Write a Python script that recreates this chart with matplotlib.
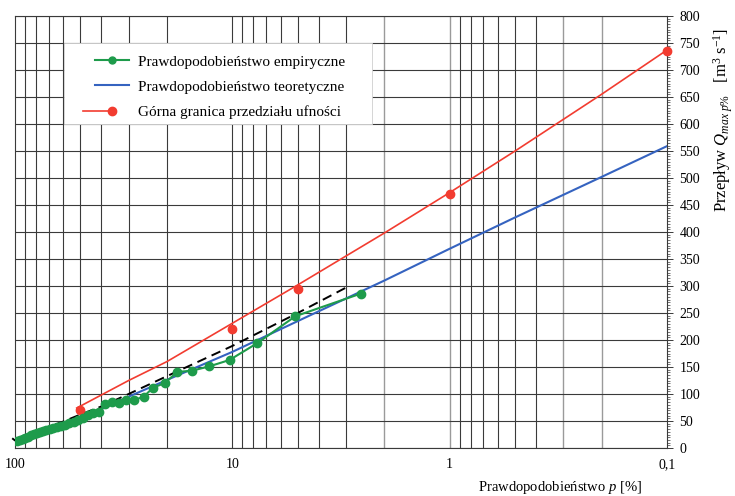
import numpy as np
import matplotlib
matplotlib.use("Agg")
import matplotlib.pyplot as plt
from matplotlib.lines import Line2D
from matplotlib.patches import Rectangle
from matplotlib.legend_handler import HandlerBase
from matplotlib.ticker import MultipleLocator, NullLocator

plt.rcParams['font.family'] = ['Liberation Serif', 'DejaVu Serif']
plt.rcParams['mathtext.fontset'] = 'custom'
plt.rcParams['mathtext.rm'] = 'Liberation Serif'
plt.rcParams['mathtext.it'] = 'Liberation Serif:italic'

# empirical probability (Weibull positions, n = 38) and flows
p_emp = [2.56, 5.13, 7.69, 10.3, 12.8, 15.4, 17.9, 20.5, 23.1, 25.6, 28.2, 30.8, 33.3,
         35.9, 38.5, 41.0, 43.6, 46.2, 48.7, 51.3, 53.8, 56.4, 59.0, 61.5, 64.1, 66.7,
         69.2, 71.8, 74.4, 76.9, 79.5, 82.1, 84.6, 87.2, 89.7, 92.3, 94.9, 97.4]
q_emp = [286, 244, 194, 163, 151, 143, 141, 120, 112, 95, 89, 88, 84,
         86, 81, 67, 65, 61, 55, 52, 49, 46, 43, 41, 39, 37, 35,
         33, 31, 29, 28, 26, 24, 21, 19, 17, 15, 13]

# theoretical distribution
p_teo = [97.4, 90, 80, 70, 60, 50, 40, 30, 20, 10, 5, 2, 1, 0.5, 0.2, 0.1]
q_teo = [12, 20, 28, 36, 46, 58, 72, 95, 126, 178, 235, 310, 369, 427, 502, 559]

# upper confidence limit
p_gor = [52, 30, 20, 10, 5, 2, 1, 0.5, 0.2, 0.1]
q_gor = [74, 125, 160, 231, 302, 398, 473, 550, 655, 737]
p_gor_pts = [50, 10, 5, 1, 0.1]
q_gor_pts = [70, 220, 294, 471, 736]

# dashed black line
p_dash = [103, 100, 90, 80, 70, 60, 50, 40, 30, 20, 10, 5, 3]
q_dash = [18, 14, 23, 31, 39, 49, 62, 77, 100, 133, 189, 250, 297]

x_ticks = [100, 10, 1, 0.1]
x_labels = ['100', '10', '1', '0,1']

green = '#1e9b4b'
blue = '#3563c0'
red = '#f23c30'
grid_c = '#3a3a3a'


class RightDot(HandlerBase):
    # line reaching further left, dot only at its right end
    def create_artists(self, legend, orig_handle, xdescent, ydescent,
                       width, height, fontsize, trans):
        y = (height - ydescent) / 2
        x1 = width / 2 - xdescent
        x0 = -xdescent - 0.35 * width
        line = Line2D([x0, x1], [y, y], color=orig_handle.get_color(),
                      lw=orig_handle.get_linewidth())
        dot = Line2D([x1], [y], ls='', marker='o', ms=orig_handle.get_markersize(),
                     color=orig_handle.get_color())
        line.set_transform(trans)
        dot.set_transform(trans)
        return [line, dot]


fig = plt.figure(figsize=(7.35, 4.96), dpi=100)
ax = fig.add_axes([15 / 735, 48 / 496, 652 / 735, 432 / 496])

ax.set_xscale('log')
ax.set_xlim(100, 0.1)
ax.set_ylim(0, 800)

# vertical grid of the probability paper
dark = [90, 80, 70, 60, 50, 40, 30, 20, 10, 9, 8, 7, 6, 5, 4, 3,
        0.9, 0.8, 0.7, 0.6, 0.5, 0.4]
light = [2, 1, 0.3, 0.2]
for v in dark:
    ax.axvline(v, color=grid_c, lw=0.8, zorder=0.5)
for v in light:
    ax.axvline(v, color='#9a9a9a', lw=1.0, zorder=0.5)

ax.set_yticks(np.arange(0, 801, 50))
ax.yaxis.set_minor_locator(MultipleLocator(5))
ax.set_axisbelow(True)
ax.grid(axis='y', which='major', color=grid_c, lw=0.8)

ax.set_xticks(x_ticks)
ax.set_xticklabels(x_labels)
ax.xaxis.set_minor_locator(NullLocator())
ax.tick_params(axis='x', length=0, pad=7, labelsize=10)

ax.yaxis.tick_right()
ax.tick_params(axis='y', which='major', direction='out', length=4, width=0.7,
               color=grid_c, pad=5, labelsize=10)
ax.tick_params(axis='y', which='minor', direction='out', length=2.5, width=0.5,
               color=grid_c)
for s in ax.spines.values():
    s.set_color(grid_c)
    s.set_linewidth(0.8)

ax.plot(p_dash, q_dash, color='black', lw=1.4, ls=(0, (5, 3)), zorder=3, clip_on=False)
ax.plot(p_teo, q_teo, color=blue, lw=1.5, zorder=4)
ax.plot(p_gor, q_gor, color=red, lw=1.2, zorder=4)
ax.plot(p_gor_pts, q_gor_pts, 'o', color=red, ms=6, zorder=5, clip_on=False)
ax.plot(p_emp, q_emp, '-o', color=green, lw=1.5, ms=6, zorder=5)

# legend
ax.add_patch(Rectangle((0.075, 0.75), 0.473, 0.1875, transform=ax.transAxes,
                       facecolor='white', edgecolor='#cfcfcf', lw=0.6, zorder=2))
h_emp = Line2D([], [], color=green, lw=1.5, marker='o', ms=5)
h_teo = Line2D([], [], color=blue, lw=1.5)
h_gor = Line2D([], [], color=red, lw=1.2, marker='o', ms=6)
leg = ax.legend([h_emp, h_teo, h_gor],
                ['Prawdopodobieństwo empiryczne', 'Prawdopodobieństwo teoretyczne',
                 'Górna granica przedziału ufności'],
                handler_map={h_gor: RightDot()},
                loc='upper left', bbox_to_anchor=(0.1227, 0.91), borderaxespad=0,
                borderpad=0, frameon=False, numpoints=1, handlelength=2.2,
                handletextpad=0.6, labelspacing=0.75, fontsize=11)
leg.set_zorder(6)

fig.text(560 / 735, 1 - 487 / 496, r'Prawdopodobieństwo $p$ [%]',
         ha='center', va='center', fontsize=10.5)
fig.text(723 / 735, 1 - 120 / 496, r'Przepływ $Q_{max\ p\%}$   [m$^3$ s$^{-1}$]',
         ha='center', va='center', rotation=90, fontsize=12)

fig.savefig('out.png', dpi=100)
